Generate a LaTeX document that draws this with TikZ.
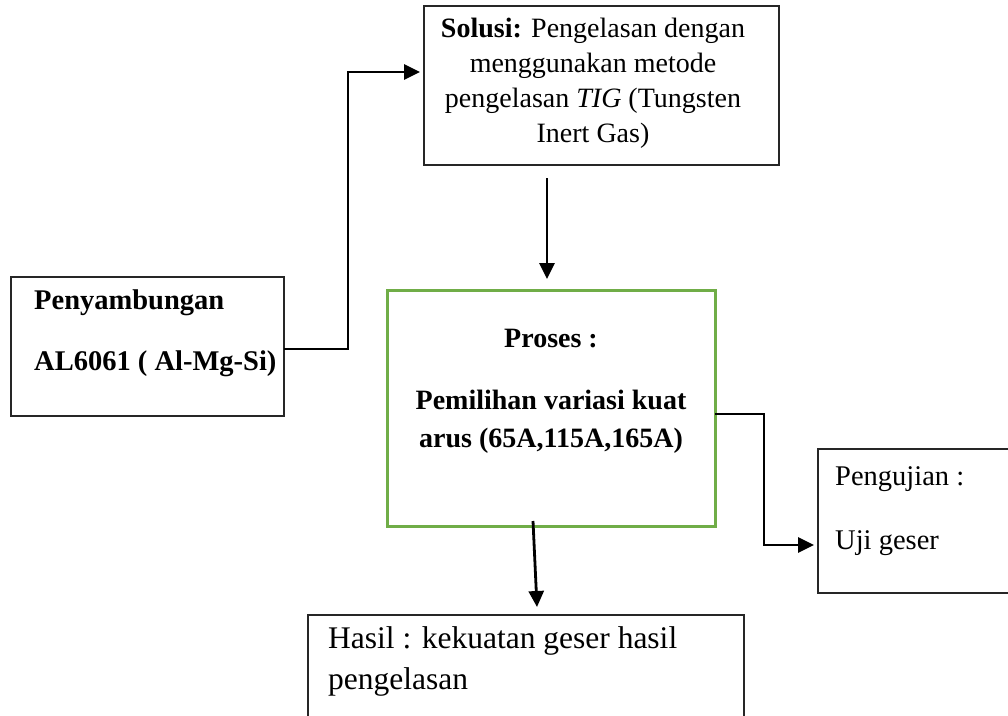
\documentclass[tikz,border=0pt]{standalone}
\usepackage{fontspec}
\setmainfont{Liberation Serif}
\usetikzlibrary{arrows.meta}
\definecolor{boxgreen}{RGB}{112,173,71}
\begin{document}
\begin{tikzpicture}[x=1pt,y=-1pt,
  box/.style={draw=black!85, line width=1.4pt, inner sep=0pt, outer sep=0pt, anchor=north west},
  gbox/.style={draw=boxgreen, line width=3pt, inner sep=0pt, outer sep=0pt, anchor=north west},
  conn/.style={line width=2.8pt, -{Triangle[length=16pt,width=15pt]}},
  txt/.style={inner sep=0pt, anchor=mid},
  txtl/.style={inner sep=0pt, anchor=mid west},
  fsol/.style={font=\fontsize{28}{32}\selectfont},
  fpen/.style={font=\fontsize{28.5}{32}\selectfont\bfseries},
  fpro/.style={font=\fontsize{28}{32}\selectfont\bfseries},
  fpeng/.style={font=\fontsize{28.5}{32}\selectfont},
  fhas/.style={font=\fontsize{31.5}{36}\selectfont}]
\clip (0,0) rectangle (1008,715);
\fill[white] (0,0) rectangle (1008,715);
% boxes
\node[box, minimum width=355pt, minimum height=159pt] (sol) at (424,6) {};
\node[box, minimum width=273pt, minimum height=139pt] (pen) at (11,277) {};
\node[gbox, minimum width=328pt, minimum height=236pt] (proses) at (387,290) {};
\node[box, minimum width=220pt, minimum height=144pt] (peng) at (818,449) {};
\node[box, minimum width=436pt, minimum height=130pt] (hasil) at (308,615) {};
% texts
\node[txt, fsol] (s1) at (593,35) {\textbf{Solusi:} Pengelasan dengan};
\node[txt, fsol] (s2) at (593,70) {menggunakan metode};
\node[txt, fsol] (s3) at (593,105) {pengelasan \textit{TIG} (Tungsten};
\node[txt, fsol] (s4) at (593,140) {Inert Gas)};
\node[txtl, fpen] (p1) at (34,307) {Penyambungan};
\node[txtl, fpen] (p2) at (34,368) {AL6061 ( Al-Mg-Si)};
\node[txt, fpro] (r1) at (551,345) {Proses :};
\node[txt, fpro] (r2) at (551,407) {Pemilihan variasi kuat};
\node[txt, fpro] (r3) at (551,445) {arus (65A,115A,165A)};
\node[txtl, fpeng] (g1) at (835,483) {Pengujian :};
\node[txtl, fpeng] (g2) at (835,547) {Uji geser};
\node[txtl, fhas] (h1) at (328,646) {Hasil : kekuatan geser hasil};
\node[txtl, fhas] (h2) at (328,687) {pengelasan};
% connectors
\draw[conn, shorten >=4pt] (pen.east |- {(0,349)}) -| (348,72) -- (sol.west |- {(0,72)});
\draw[conn, shorten <=13pt, shorten >=11pt] ([xshift=-4pt]proses.north |- sol.south) -- ([xshift=-4pt]proses.north);
\draw[conn, shorten >=4pt] (proses.east |- {(0,414)}) -| (764,545) -- (peng.west |- {(0,545)});
\draw[conn] ([xshift=-18pt,yshift=5pt]proses.south) -- ([xshift=11pt,yshift=8pt]hasil.north);
\end{tikzpicture}
\end{document}
